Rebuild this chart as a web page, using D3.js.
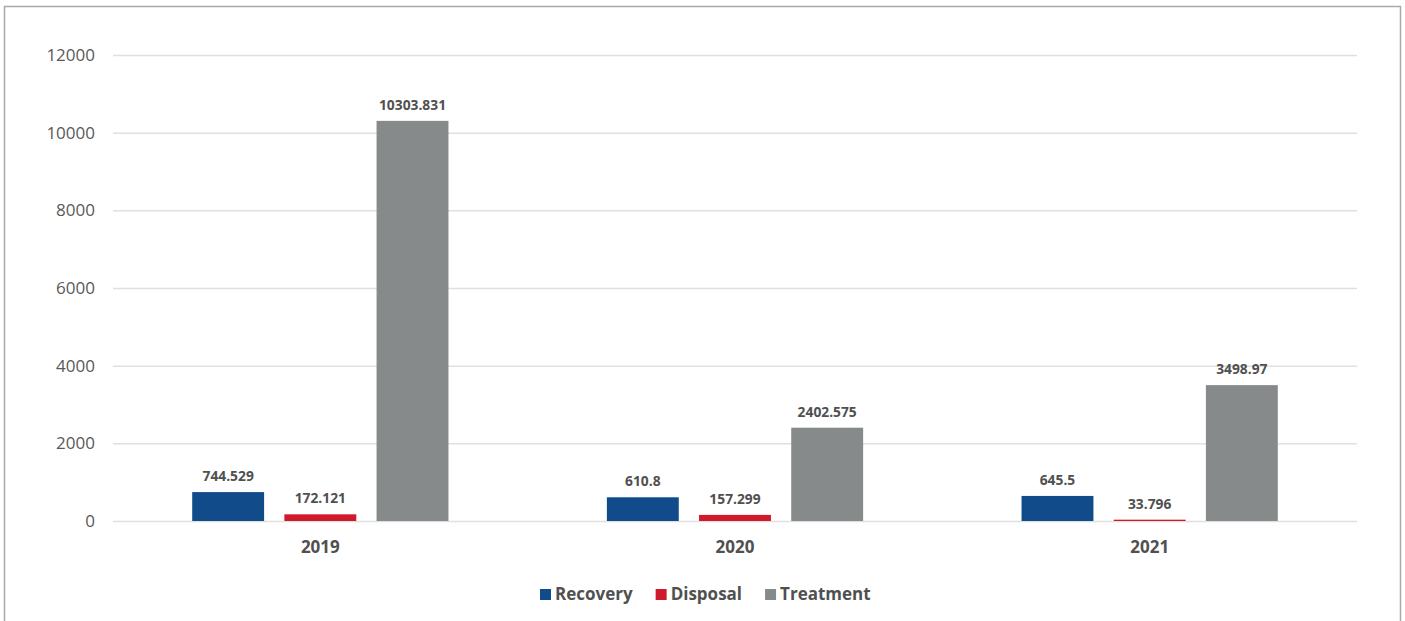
<!DOCTYPE html>
<html>
<head>
<meta charset="utf-8">
<script src="https://cdn.jsdelivr.net/npm/d3@7"></script>
<style>
  html, body { margin: 0; padding: 0; background: #fff; }
  svg { display: block; font-family: "Open Sans", "Noto Sans", sans-serif; }
</style>
</head>
<body>
<svg id="chart" width="1405" height="621"></svg>
<script>
// Waste quantities by management route, per year
const years = ["2019", "2020", "2021"];
const seriesNames = ["Recovery", "Disposal", "Treatment"];
const recovery = [744.529, 610.8, 645.5];
const disposal = [172.121, 157.299, 33.796];
const treatment = [10303.831, 2402.575, 3498.97];
const yTicks = [0, 2000, 4000, 6000, 8000, 10000, 12000];
const colors = ["#114b89", "#d0192b", "#878a8a"];

const values = [recovery, disposal, treatment];
const rows = years.map((y, i) => ({
  year: y,
  items: seriesNames.map((s, j) => ({ key: s, value: values[j][i] }))
}));

const svg = d3.select("#chart");
const W = 1405, H = 621;

// outer frame
svg.append("path")
  .attr("d", `M4.5,${H} V6.5 H1400.5 V${H}`)
  .attr("fill", "none")
  .attr("stroke", "#a9a9a9")
  .attr("stroke-width", 1.5);

const x0 = d3.scaleBand().domain(years).range([113, 1357]).paddingInner(0).paddingOuter(0);
const groupWidth = x0.bandwidth() * 0.618;
const x1 = d3.scaleBand().domain(seriesNames).range([0, groupWidth]).paddingInner(0.22);
const y = d3.scaleLinear().domain([0, 12000]).range([521, 55]);

// gridlines + y tick labels
const yAxis = d3.axisLeft(y).tickValues(yTicks).tickSize(-(1357 - 113)).tickPadding(18).tickFormat(d3.format("d"));
const ga = svg.append("g").attr("transform", "translate(113,0)").call(yAxis);
ga.select(".domain").remove();
ga.selectAll(".tick line").attr("stroke", "#e0e0e0").attr("stroke-width", 1.5);
ga.selectAll(".tick text")
  .attr("fill", "#595959")
  .style("font-size", "17px")
  .style("font-family", "'Open Sans', sans-serif");

// bars
const groups = svg.append("g").selectAll("g").data(rows).join("g")
  .attr("transform", d => `translate(${x0(d.year) + (x0.bandwidth() - groupWidth) / 2},0)`);

groups.selectAll("rect").data(d => d.items).join("rect")
  .attr("x", d => x1(d.key))
  .attr("width", x1.bandwidth())
  .attr("y", d => y(d.value))
  .attr("height", d => y(0) - y(d.value))
  .attr("fill", (d, i) => colors[i]);

groups.selectAll("text.val").data(d => d.items).join("text")
  .attr("class", "val")
  .attr("x", d => x1(d.key) + x1.bandwidth() / 2)
  .attr("y", d => y(d.value) - 11)
  .attr("text-anchor", "middle")
  .attr("fill", "#505050")
  .style("font-size", "13.8px")
  .style("font-weight", "700")
  .text(d => String(d.value));

// category labels
const xAxis = d3.axisBottom(x0).tickSize(0).tickPadding(20);
const gx = svg.append("g").attr("transform", "translate(0,521)").call(xAxis);
gx.select(".domain").remove();
gx.selectAll(".tick text")
  .attr("fill", "#505050")
  .style("font-size", "17px")
  .style("font-weight", "700")
  .style("font-family", "'Open Sans', sans-serif");

// legend: swatch + label, laid out from measured text widths
const legend = svg.append("g").attr("transform", "translate(0,594)");
let lx = 540;
seriesNames.forEach((name, i) => {
  const g = legend.append("g").attr("transform", `translate(${lx},0)`);
  g.append("rect").attr("x", 0).attr("y", -5).attr("width", 11).attr("height", 11).attr("fill", colors[i]);
  const t = g.append("text").attr("x", 15).attr("y", 0).attr("dy", "0.35em")
    .attr("fill", "#505050")
    .style("font-size", "17px").style("font-weight", "700")
    .text(name);
  lx += 15 + t.node().getComputedTextLength() + 23;
});
</script>
</body>
</html>
